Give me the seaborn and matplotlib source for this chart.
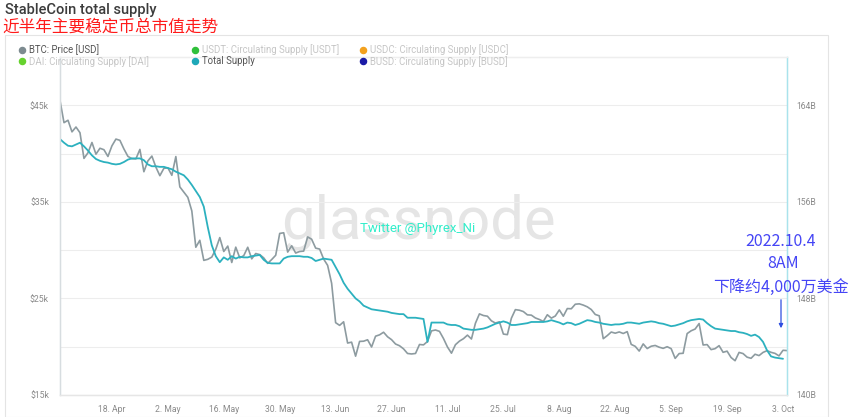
import numpy as np
import pandas as pd
import matplotlib
matplotlib.use("Agg")
import matplotlib.pyplot as plt
from matplotlib.lines import Line2D
from matplotlib.patches import Rectangle, FancyArrowPatch
import seaborn as sns

# daily values, 5 Apr 2022 -> 4 Oct 2022
start_date = "2022-04-05"
end_date = "2022-10-04"

btc_price = [
    # Apr
    45500, 43200, 43450, 42250, 42750, 42160, 39500, 40080, 41150, 39940,
    40550, 40400, 39700, 40800, 41500, 41370, 40480, 39710, 39470, 39450,
    40430, 38120, 39240, 39740, 38600, 37710,
    # May
    38470, 38530, 37750, 39690, 36550, 36010, 35470, 34060, 30300, 31020,
    28940, 29050, 29280, 30100, 31300, 29860, 30420, 28720, 30310, 29200,
    29430, 30300, 29100, 29650, 29540, 29200, 28630, 29030, 29470, 31730,
    31800,
    # Jun
    29800, 30450, 29700, 29860, 29900, 31370, 31130, 30210, 30110, 29080,
    28420, 26570, 22490, 22210, 22580, 20380, 20470, 19020, 20550, 20570,
    20720, 19970, 21090, 21230, 21500, 21030, 20730, 20280, 20100, 19780,
    # Jul
    19300, 19250, 19300, 20230, 20190, 20540, 21640, 21730, 21590, 20850,
    19970, 19330, 20210, 20580, 20830, 21200, 20800, 22430, 23400, 23230,
    23160, 22680, 22450, 22580, 21310, 21250, 22950, 23840, 23780, 23640,
    23300,
    # Aug
    23270, 22980, 22820, 22620, 23310, 22960, 23180, 23810, 23160, 23950,
    23930, 24400, 24440, 24310, 24130, 23850, 23340, 23200, 20830, 21150,
    21520, 21400, 21530, 21370, 21560, 20240, 20040, 19550, 20290, 19810,
    20050,
    # Sep
    20130, 19950, 19830, 20000, 19800, 18790, 19290, 19320, 21360, 21650,
    21830, 22400, 20180, 20220, 19700, 19800, 20110, 19420, 19540, 18880,
    18550, 19410, 19290, 18920, 18800, 19220, 19080, 19410, 19590, 19420,
    # Oct
    19310, 19050, 19630, 19600,
]

# stablecoin total supply, billions USD
total_supply = [
    161.2, 160.9, 160.65, 160.6, 160.75, 160.9, 160.6,
    160.25, 159.85, 159.55, 159.4, 159.3, 159.25, 159.15,
    159.1, 159.15, 159.3, 159.5, 159.6, 159.6, 159.6,
    159.45, 159.1, 158.95, 158.95, 158.9, 158.9, 158.8,
    158.7, 158.5, 158.35, 158.2, 157.85, 157.4, 156.9,
    156.4, 155.6, 153.9, 152.4, 151.5, 151.0, 151.4,
    151.2, 151.5, 151.3, 151.45, 151.4, 151.4, 151.5,
    151.55, 151.6, 151.2, 150.95, 150.9, 150.9, 150.9,
    151.3, 151.45, 151.5, 151.5, 151.5, 151.45, 151.45,
    151.35, 151.1, 151.2, 151.3, 151.25, 151.2, 150.6,
    150.0, 149.3, 148.8, 148.4, 148.0, 147.75, 147.4,
    147.25, 147.1, 147.05, 147.0, 146.95, 146.9, 146.8,
    146.75, 146.7, 146.7, 146.4, 146.4, 146.4, 146.35,
    146.3, 144.4, 146.0, 146.0, 146.0, 146.0, 145.85,
    145.8, 145.8, 145.7, 145.5, 145.45, 145.4, 145.4,
    145.45, 145.5, 145.6, 145.75, 145.9, 146.0, 146.1,
    146.0, 145.8, 145.8, 145.85, 145.9, 145.95, 146.05,
    146.05, 146.05, 146.05, 146.1, 146.2, 146.1, 146.0,
    145.85, 146.0, 145.95, 145.8, 145.9, 146.05, 146.2,
    146.15, 146.05, 146.0, 145.9, 145.85, 145.8, 145.85,
    145.85, 145.9, 146.0, 146.0, 145.95, 145.9, 146.0,
    146.05, 146.1, 146.05, 145.95, 145.9, 145.8, 145.7,
    145.75, 145.85, 145.95, 146.1, 146.2, 146.25, 146.3,
    146.25, 145.95, 145.7, 145.5, 145.45, 145.4, 145.35,
    145.3, 145.3, 145.2, 145.15, 145.05, 144.9, 145.0,
    144.8, 144.4, 143.7, 143.2, 143.1, 143.05, 143.0, np.nan,
]

tick_dates = ["2022-04-18", "2022-05-02", "2022-05-16", "2022-05-30",
              "2022-06-13", "2022-06-27", "2022-07-11", "2022-07-25",
              "2022-08-08", "2022-08-22", "2022-09-05", "2022-09-19",
              "2022-10-03"]
tick_labels = ["18. Apr", "2. May", "16. May", "30. May", "13. Jun", "27. Jun",
               "11. Jul", "25. Jul", "8. Aug", "22. Aug", "5. Sep", "19. Sep",
               "3. Oct"]

left_ticks = [15000, 25000, 35000, 45000]
left_labels = ["$15k", "$25k", "$35k", "$45k"]
right_ticks = [140, 148, 156, 164]
right_labels = ["140B", "148B", "156B", "164B"]

legend_labels = ["BTC: Price [USD]", "DAI: Circulating Supply [DAI]",
                 "USDT: Circulating Supply [USDT]", "Total Supply",
                 "USDC: Circulating Supply [USDC]", "BUSD: Circulating Supply [BUSD]"]
legend_colors = ["#7d8b90", "#66d22e", "#2fc03a", "#1ea8b8", "#f3a11e", "#1b1ba6"]
legend_active = [True, False, False, True, False, False]

btc_color = "#8d9ba0"
supply_color = "#2cb1bf"

df = pd.DataFrame({
    "date": pd.date_range(start_date, end_date, freq="D"),
    "btc": btc_price,
    "supply": total_supply,
})

sns.set_style("white")
plt.rcParams["font.family"] = ["Roboto", "Noto Sans CJK SC", "DejaVu Sans"]

W, H = 851, 417


def fx(px):
    return px / W


def fy(py):
    return 1 - py / H


fig = plt.figure(figsize=(W / 100, H / 100), dpi=100)
ax = fig.add_axes([fx(60), fy(395), fx(787) - fx(60), fy(57) - fy(395)])

# watermark behind the lines
ax.text(fx(418), fy(222), "glassnode", transform=fig.transFigure, fontsize=43,
        color="#e5e5e5", ha="center", va="center", zorder=0)

sns.lineplot(data=df, x="date", y="btc", ax=ax, color=btc_color, linewidth=1.2)

ax2 = ax.twinx()
sns.lineplot(data=df, x="date", y="supply", ax=ax2, color=supply_color, linewidth=1.3)

ax.set_xlim(df["date"].iloc[0], df["date"].iloc[-1])
ax.set_ylim(15000, 50000)
ax2.set_ylim(140, 168)

ax.set_yticks(left_ticks)
ax.set_yticklabels(left_labels)
ax.set_yticks([20000, 30000, 40000], minor=True)
ax.grid(axis="y", which="both", color="#ededed", linewidth=0.8)
ax.set_xticks(pd.to_datetime(tick_dates))
ax.set_xticklabels(tick_labels)

ax2.set_yticks(right_ticks)
ax2.set_yticklabels(right_labels)
ax2.grid(False)

for a in (ax, ax2):
    a.set_xlabel("")
    a.set_ylabel("")
ax.tick_params(axis="both", which="both", length=0, labelsize=6.2, colors="#8a8a8a")
ax.tick_params(axis="x", pad=7)
ax.tick_params(axis="y", pad=8)
ax2.tick_params(axis="y", length=0, labelsize=6.2, colors="#8a8a8a", pad=7)

for a in (ax, ax2):
    a.spines["top"].set_color("#eeeeee")
    a.spines["bottom"].set_color("#e6e6e6")
    a.spines["left"].set_color("#d7dde0")
    a.spines["right"].set_color("#a9e3ec")
    for s in a.spines.values():
        s.set_linewidth(0.9)

# outer panel frame
fig.add_artist(Rectangle((fx(5), 0), fx(828) - fx(5), fy(35), transform=fig.transFigure,
                         fill=False, edgecolor="#e4e4e4", linewidth=0.8))

# titles
fig.text(fx(5), fy(10), "StableCoin total supply", fontsize=10.5, color="#3c3c3c",
         ha="left", va="center", fontweight="medium")
fig.text(fx(2), fy(27), "近半年主要稳定币总市值走势", fontsize=12, color="#ff1a1a",
         ha="left", va="center", family=["Noto Sans CJK SC", "DejaVu Sans"])

# legend: four columns, two rows
col_x = [22, 195, 363, 530]
for i, x in enumerate(col_x):
    idx = [j for j in (2 * i, 2 * i + 1) if j < len(legend_labels)]
    handles = [Line2D([], [], marker="o", linestyle="", markersize=4.4,
                      color=legend_colors[j]) for j in idx]
    leg = fig.legend(handles, [legend_labels[j] for j in idx], loc="upper left",
                     bbox_to_anchor=(fx(x - 3), fy(44.5)), frameon=False, fontsize=6.9,
                     handlelength=0.6, handletextpad=0.45, labelspacing=0.05,
                     borderpad=0, borderaxespad=0)
    for t, j in zip(leg.get_texts(), idx):
        t.set_color("#555555" if legend_active[j] else "#c6c6c6")

fig.text(fx(418), fy(228), "Twitter @Phyrex_Ni", fontsize=9.5, color="#33eecb",
         ha="center", va="center")

# annotation about the latest drop
note_font = ["Noto Sans CJK SC", "DejaVu Sans"]
fig.text(fx(781), fy(242), "2022.10.4", fontsize=11.5, color="#4545f5",
         ha="center", va="center", family=note_font)
fig.text(fx(783), fy(264), "8AM", fontsize=11.5, color="#4545f5",
         ha="center", va="center", family=note_font)
fig.text(fx(781), fy(287), "下降约4,000万美金", fontsize=11.5, color="#4545f5",
         ha="center", va="center", family=note_font)
fig.add_artist(FancyArrowPatch(
    (fx(781), fy(297)), (fx(781), fy(331)), transform=fig.transFigure,
    arrowstyle="-|>", mutation_scale=6, color="#2f4fe0", linewidth=0.9))

fig.savefig("out.png", dpi=100)
